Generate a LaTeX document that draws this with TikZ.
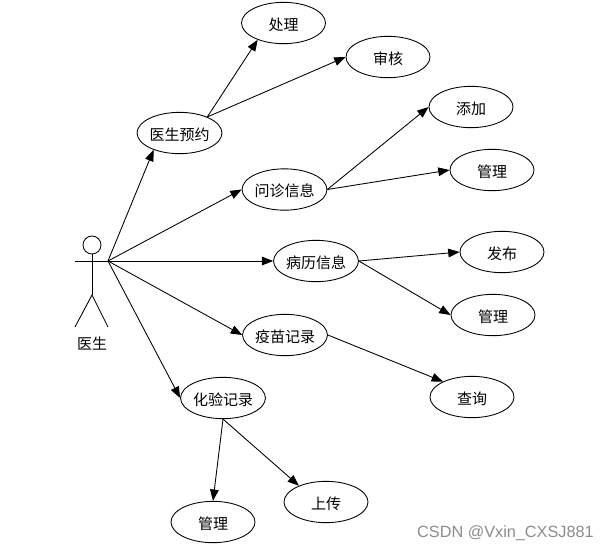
\documentclass[tikz,border=0pt]{standalone}
\usepackage{fontspec}
\setmainfont{Noto Sans CJK SC}
\newfontfamily\wm{Liberation Sans}
\usetikzlibrary{arrows.meta,shapes.geometric}
\tikzset{
 px/.style={x=0.75pt,y=-0.75pt},
 uc/.style={draw,ellipse,line width=0.65pt,minimum width=63pt,minimum height=31pt,inner sep=0pt,font=\fontsize{11.25pt}{13pt}\selectfont,text height=11pt,text depth=-1pt,fill=white},
 con/.style={draw,line width=0.65pt,-{Triangle[length=8.5pt,width=6.5pt]}},
 act/.style={line width=0.65pt}
}
\begin{document}
\begin{tikzpicture}[px]
\useasboundingbox (0,0) rectangle (608,551);
\node[uc] (a1) at (179.5,133) {医生预约};
\node[uc] (a2) at (283.5,23) {处理};
\node[uc] (a3) at (388,57) {审核};
\node[uc] (b1) at (284.5,189.5) {问诊信息};
\node[uc] (b2) at (471,107) {添加};
\node[uc] (b3) at (492,170) {管理};
\node[uc] (c1) at (316,261) {病历信息};
\node[uc] (c2) at (502,252) {发布};
\node[uc] (c3) at (493,315) {管理};
\node[uc] (d1) at (285,335) {疫苗记录};
\node[uc] (d2) at (472,397) {查询};
\node[uc] (e1) at (223,398) {化验记录};
\node[uc] (e2) at (213,522) {管理};
\node[uc] (e3) at (326,502) {上传};
\coordinate (h) at (108,261);
\node[draw,circle,act,minimum size=13.5pt,inner sep=0pt] (head) at (92,245) {};
\coordinate (hip) at (92,295);
\coordinate (la) at (75,261);
\coordinate (l1) at (75,327);
\coordinate (l2) at (108,327);
\draw[act] (head.south) -- (hip);
\draw[act] (la) -- (h);
\draw[act] (l1) -- (hip) -- (l2);
\node[font=\fontsize{11.25pt}{13pt}\selectfont] (lbl) at (92,344) {医生};
\draw[con] (h) -- (a1.213);
\foreach \t in {b1,c1,d1,e1} \draw[con] (h) -- (\t.180);
\draw[con] (a1.30) -- (a2.213);
\draw[con] (a1.30) -- (a3.180);
\draw[con] (b1.0) -- (b2.180);
\draw[con] (b1.0) -- (b3.180);
\draw[con] (c1.0) -- (c2.180);
\draw[con] (c1.0) -- (c3.180);
\draw[con] (d1.0) -- (d2.152);
\draw[con] (e1.270) -- (e2.90);
\draw[con] (e1.270) -- (e3.149);
\node[anchor=east,inner sep=0pt,text=black!45,font=\wm\fontsize{12.2pt}{14pt}\selectfont] (wmk) at (594,533) {CSDN @Vxin\_CXSJ881};
\end{tikzpicture}
\end{document}
